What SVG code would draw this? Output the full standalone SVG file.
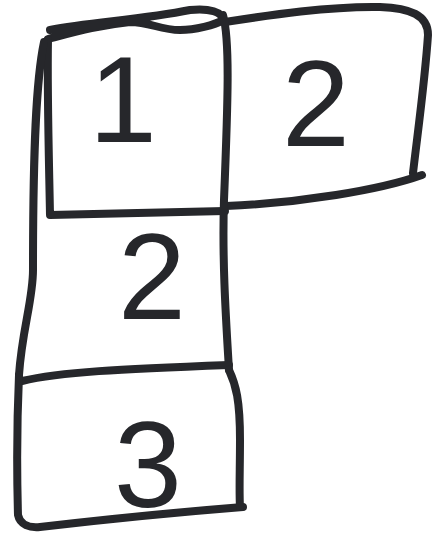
<svg xmlns="http://www.w3.org/2000/svg" width="432" height="538" viewBox="0 0 432 538">
<style>
.s{fill:none;stroke:#26272b;stroke-width:8;stroke-linecap:round;stroke-linejoin:round}
.t{font-family:"Liberation Sans",Arial,sans-serif;font-size:122px;fill:#26272b;text-anchor:middle}
</style>
<rect width="432" height="538" fill="#fff"/>
<g id="cell1">
<path class="s" d="M50,30 C90,22 140,20 190,10 C210,8 222,12 223,20 C215,25 195,30 180,30 C160,30 150,22 130,22 C100,25 75,32 48,39"/>
<path class="s" d="M48,40 C47,90 49,160 50,215 L225,211"/>
<text class="t" x="123" y="142">1</text>
</g>
<g id="cell2a">
<path class="s" d="M225,22 C270,15 330,6 380,7 C410,8 428,15 428,35 C425,80 418,130 413,173"/>
<path class="s" d="M422,175 C380,190 300,203 226,206"/>
<text class="t" x="316" y="146">2</text>
</g>
<g id="cell2b">
<path class="s" d="M44,42 C36,80 33,150 33,270 C33,300 22,330 19,375"/>
<path class="s" d="M223,15 C230,40 228,100 224,200 C222,260 226,320 229,370"/>
<path class="s" d="M22,381 C60,372 120,369 229,365"/>
<text class="t" x="152" y="319">2</text>
</g>
<g id="cell3">
<path class="s" d="M19,375 C17,420 17,480 18,515 C20,525 30,528 40,527 C100,520 180,512 243,507"/>
<path class="s" d="M229,370 C236,385 240,400 240,440 C240,470 239,490 240,507"/>
<text class="t" x="148" y="507">3</text>
</g>
<g id="connectors"></g>
</svg>
